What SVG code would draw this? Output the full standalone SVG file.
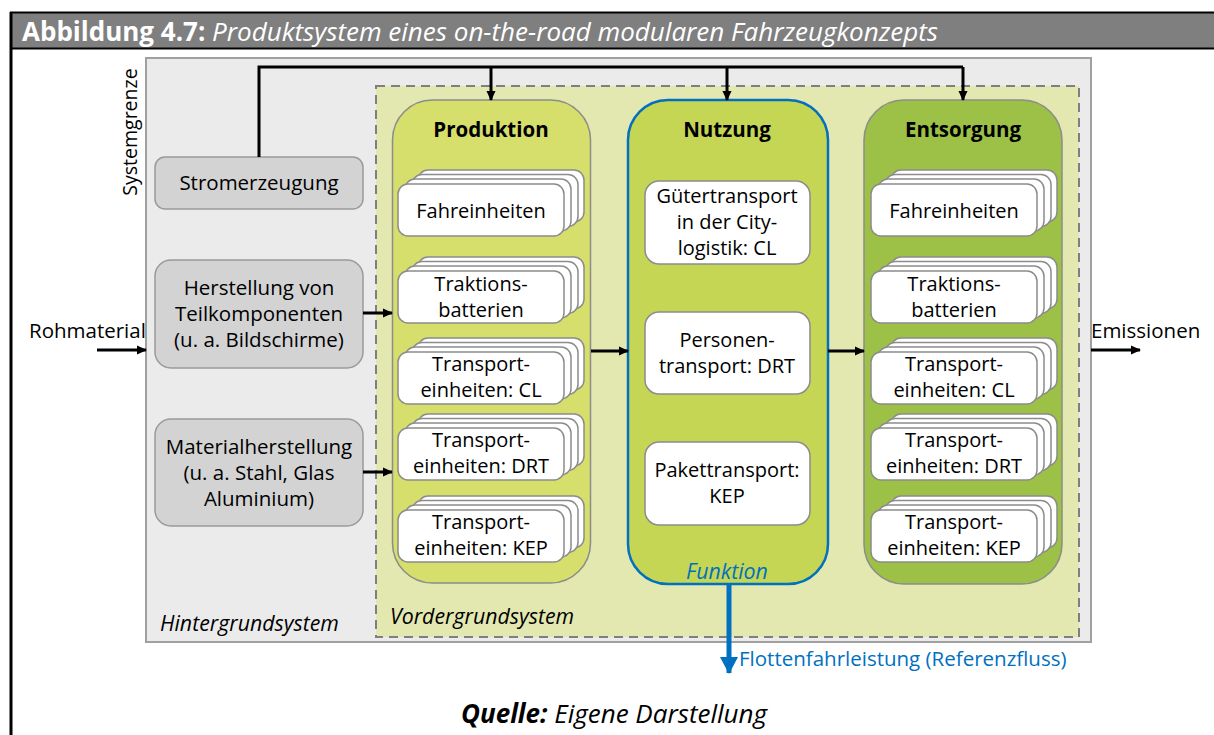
<svg xmlns="http://www.w3.org/2000/svg" xmlns:xlink="http://www.w3.org/1999/xlink" width="1214" height="735" viewBox="0 0 1214 735">
<style>
  text { font-family: "Open Sans", "Noto Sans", "Liberation Sans", sans-serif; fill: #000; }
  .t { font-size: 20px; text-anchor: middle; }
  .h { font-size: 20.5px; font-weight: bold; text-anchor: middle; }
  .card { fill: #fff; stroke: #8c8c8c; stroke-width: 1.5; }
  .bg { fill: #d3d3d3; stroke: #9a9a9a; stroke-width: 1.5; }
  .con { stroke: #000; stroke-width: 3; fill: none; }
  .it { font-style: italic; font-size: 21.3px; }
</style>
<defs>
  <marker id="ah" markerWidth="10" markerHeight="10" refX="9" refY="5" orient="auto" markerUnits="userSpaceOnUse">
    <path d="M0,0.5 L10,5 L0,9.5 Z" fill="#000"/>
  </marker>
  <marker id="ahb" markerWidth="18" markerHeight="18" refX="16" refY="9" orient="auto" markerUnits="userSpaceOnUse">
    <path d="M0,0 L17,9 L0,18 Z" fill="#0070c0"/>
  </marker>
  <g id="stack">
    <rect class="card" x="20" y="-14" width="166" height="52" rx="10"/>
    <rect class="card" x="14" y="-9.5" width="166" height="52" rx="10"/>
    <rect class="card" x="7" y="-5" width="166" height="52" rx="10"/>
    <rect class="card" x="0" y="0" width="166" height="52" rx="10"/>
  </g>
</defs>

<!-- frame -->
<rect x="0" y="0" width="1214" height="735" fill="#fff"/>
<g id="header">
  <rect x="10" y="12" width="1204" height="37" fill="#7f7f7f"/>
  <line x1="10" y1="12.5" x2="1214" y2="12.5" stroke="#000" stroke-width="2"/>
  <line x1="10" y1="48.5" x2="1214" y2="48.5" stroke="#000" stroke-width="2"/>
  <line x1="11" y1="12" x2="11" y2="735" stroke="#000" stroke-width="3"/>
  <text x="22" y="41" style="font-size:26px;fill:#fff"><tspan font-weight="bold">Abbildung 4.7:</tspan><tspan font-style="italic"> Produktsystem eines on-the-road modularen Fahrzeugkonzepts</tspan></text>
</g>

<!-- Hintergrundsystem -->
<g id="hintergrund">
  <rect x="146" y="58" width="945" height="584" fill="#ebebeb" stroke="#a0a0a0" stroke-width="2"/>
  <text class="it" x="160" y="631">Hintergrundsystem</text>
</g>
<text x="137" y="132" transform="rotate(-90 137 132)" style="font-size:19.5px;text-anchor:middle">Systemgrenze</text>

<!-- Vordergrundsystem -->
<g id="vordergrund">
  <rect x="376" y="86" width="703" height="551" fill="#e3e8b0" stroke="#7f7f7f" stroke-width="2" stroke-dasharray="9,6"/>
  <text class="it" x="390" y="624">Vordergrundsystem</text>
</g>

<!-- background processes -->
<g id="stromerzeugung">
  <rect class="bg" x="155" y="157" width="208" height="52" rx="10"/>
  <text class="t" x="259" y="190" style="font-size:20.5px">Stromerzeugung</text>
</g>
<g id="herstellung">
  <rect class="bg" x="155" y="260" width="208" height="108" rx="16"/>
  <text class="t" x="259" y="295" style="font-size:20.5px">Herstellung von</text>
  <text class="t" x="259" y="321" style="font-size:20.5px">Teilkomponenten</text>
  <text class="t" x="259" y="347" style="font-size:20.5px">(u. a. Bildschirme)</text>
</g>
<g id="materialherstellung">
  <rect class="bg" x="155" y="419" width="208" height="107" rx="16"/>
  <text class="t" x="259" y="454" style="font-size:20.5px">Materialherstellung</text>
  <text class="t" x="259" y="480" style="font-size:20.5px">(u. a. Stahl, Glas</text>
  <text class="t" x="259" y="506" style="font-size:20.5px">Aluminium)</text>
</g>

<!-- Produktion -->
<g id="produktion">
  <rect x="392.5" y="100" width="198" height="483" rx="40" fill="#d6de6c" stroke="#8c8c8c" stroke-width="1.5"/>
  <text class="h" x="491" y="137">Produktion</text>
  <use xlink:href="#stack" x="398" y="184"/>
  <text class="t" x="481" y="218">Fahreinheiten</text>
  <use xlink:href="#stack" x="398" y="271"/>
  <text class="t" x="481" y="291">Traktions-</text>
  <text class="t" x="481" y="317">batterien</text>
  <use xlink:href="#stack" x="398" y="352"/>
  <text class="t" x="481" y="371">Transport-</text>
  <text class="t" x="481" y="397">einheiten: CL</text>
  <use xlink:href="#stack" x="398" y="428"/>
  <text class="t" x="481" y="447">Transport-</text>
  <text class="t" x="481" y="473">einheiten: DRT</text>
  <use xlink:href="#stack" x="398" y="510"/>
  <text class="t" x="481" y="529">Transport-</text>
  <text class="t" x="481" y="555">einheiten: KEP</text>
</g>

<!-- Nutzung -->
<g id="nutzung">
  <rect x="628" y="100" width="200" height="484" rx="40" fill="#c5d654" stroke="#0070c0" stroke-width="2.5"/>
  <text class="h" x="727" y="137">Nutzung</text>
  <rect class="card" x="645" y="181" width="165" height="83" rx="14"/>
  <text class="t" x="727" y="203">Gütertransport</text>
  <text class="t" x="727" y="229">in der City-</text>
  <text class="t" x="727" y="255">logistik: CL</text>
  <rect class="card" x="645" y="312" width="165" height="82" rx="14"/>
  <text class="t" x="727" y="347">Personen-</text>
  <text class="t" x="727" y="373">transport: DRT</text>
  <rect class="card" x="645" y="442" width="165" height="83" rx="14"/>
  <text class="t" x="727" y="477">Pakettransport:</text>
  <text class="t" x="727" y="503">KEP</text>
  <text class="it" x="727" y="579" style="text-anchor:middle;fill:#0070c0">Funktion</text>
</g>

<!-- Entsorgung -->
<g id="entsorgung">
  <rect x="864" y="100" width="198" height="484" rx="40" fill="#9dc046" stroke="#8c8c8c" stroke-width="1.5"/>
  <text class="h" x="963" y="137">Entsorgung</text>
  <use xlink:href="#stack" x="871" y="184"/>
  <text class="t" x="954" y="218">Fahreinheiten</text>
  <use xlink:href="#stack" x="871" y="271"/>
  <text class="t" x="954" y="291">Traktions-</text>
  <text class="t" x="954" y="317">batterien</text>
  <use xlink:href="#stack" x="871" y="352"/>
  <text class="t" x="954" y="371">Transport-</text>
  <text class="t" x="954" y="397">einheiten: CL</text>
  <use xlink:href="#stack" x="871" y="428"/>
  <text class="t" x="954" y="447">Transport-</text>
  <text class="t" x="954" y="473">einheiten: DRT</text>
  <use xlink:href="#stack" x="871" y="510"/>
  <text class="t" x="954" y="529">Transport-</text>
  <text class="t" x="954" y="555">einheiten: KEP</text>
</g>

<!-- connectors -->
<g id="connectors">
  <path class="con" d="M259,157 V67 H963"/>
  <path class="con" d="M491,67 V100" marker-end="url(#ah)"/>
  <path class="con" d="M727,67 V100" marker-end="url(#ah)"/>
  <path class="con" d="M963,67 V100" marker-end="url(#ah)"/>
  <path class="con" d="M97,350 H146" marker-end="url(#ah)"/>
  <path class="con" d="M363,313 H392" marker-end="url(#ah)"/>
  <path class="con" d="M363,472 H392" marker-end="url(#ah)"/>
  <path class="con" d="M591,351 H628" marker-end="url(#ah)"/>
  <path class="con" d="M828,351 H864" marker-end="url(#ah)"/>
  <path class="con" d="M1091,350 H1140" marker-end="url(#ah)"/>
  <path d="M729,584 V673" stroke="#0070c0" stroke-width="5" fill="none" marker-end="url(#ahb)"/>
</g>

<text x="29" y="338" style="font-size:20.5px">Rohmaterial</text>
<text x="1091" y="338" style="font-size:20.5px">Emissionen</text>
<text x="739" y="666" style="font-size:20.5px;fill:#0070c0">Flottenfahrleistung (Referenzfluss)</text>

<text x="614" y="723" style="font-size:26px;text-anchor:middle;font-style:italic"><tspan font-weight="bold">Quelle:</tspan> Eigene Darstellung</text>
</svg>
